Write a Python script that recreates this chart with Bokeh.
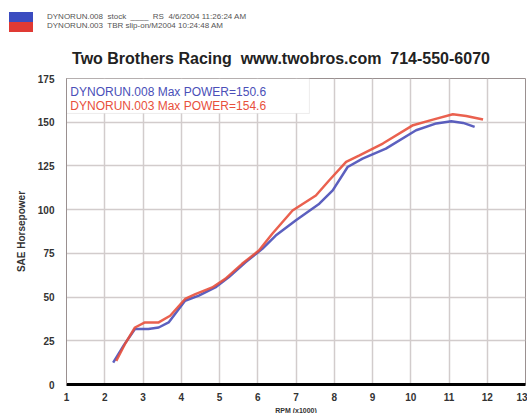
from bokeh.plotting import figure
from bokeh.layouts import column
from bokeh.models import Range1d, Label, BoxAnnotation, FixedTicker, Div
from bokeh.embed import file_html
from bokeh.resources import INLINE

# ---- data read from the dyno sheet ----
rpm_blue = [2.22, 2.50, 2.79, 3.14, 3.41, 3.67, 4.10, 4.46, 4.89, 5.24, 5.68, 6.12,
            6.47, 6.99, 7.61, 7.96, 8.35, 8.74, 9.35, 10.14, 10.67, 11.06, 11.37, 11.67]
hp_blue = [12.5, 22.5, 31.7, 31.7, 32.6, 35.5, 47.9, 50.8, 55.5, 61.3, 69.9, 77.6,
           85.2, 93.8, 103.4, 111.0, 124.4, 129.2, 134.9, 145.4, 149.3, 150.6, 149.6, 147.3]

rpm_red = [2.30, 2.55, 2.79, 3.05, 3.41, 3.71, 4.10, 4.37, 4.81, 5.15, 5.59, 6.03,
           6.38, 6.91, 7.52, 7.87, 8.31, 8.66, 9.27, 10.06, 10.58, 11.10, 11.45, 11.89]
hp_red = [13.5, 24.0, 32.6, 35.5, 35.5, 39.3, 48.9, 51.7, 55.5, 60.4, 69.0, 76.6,
          86.2, 99.5, 108.1, 116.8, 127.3, 131.1, 137.8, 148.3, 151.5, 154.6, 153.6, 151.5]

x_ticks = [1, 2, 3, 4, 5, 6, 7, 8, 9, 10, 11, 12, 13]
y_ticks = [0, 25, 50, 75, 100, 125, 150, 175]

legend_labels = ["DYNORUN.008  Max POWER=150.6", "DYNORUN.003  Max POWER=154.6"]
header_lines = ["DYNORUN.008  stock  ____  RS  4/6/2004 11:26:24 AM",
                "DYNORUN.003  TBR slip-on/M2004 10:24:48 AM"]
title_text = "Two Brothers Racing  www.twobros.com  714-550-6070"
x_label = "RPM (x1000)"
y_label = "SAE Horsepower"

BLUE = "#4a4fb8"
RED = "#e8503c"
FONT = "Liberation Sans"
W, H = 527, 413
HEAD_H = 70
FOOT_H = 9

# ---- header (swatch, run info, title) ----
head_html = (
    f'<div style="position:relative;width:{W}px;height:{HEAD_H}px;background:white;'
    f'font-family:\'{FONT}\',sans-serif;overflow:hidden;">'
    '<div style="position:absolute;left:9px;top:12px;width:24px;height:10px;background:#3b4cc0;"></div>'
    '<div style="position:absolute;left:9px;top:22px;width:24px;height:10px;background:#e03a34;"></div>'
    '<div style="position:absolute;left:47px;top:12px;font-size:8px;line-height:9px;'
    'color:#555555;white-space:pre;">' + "<br>".join(header_lines) + '</div>'
    '<div style="position:absolute;left:35px;width:492px;top:49px;text-align:center;'
    'font-size:16px;line-height:20px;font-weight:bold;color:#222222;white-space:pre;">'
    + title_text + '</div></div>'
)
head = Div(text=head_html, width=W, height=HEAD_H, margin=(0, 0, 0, 0))

# ---- footer: x axis title (sits at the very bottom, as in the photo) ----
foot_html = (
    f'<div style="position:relative;width:{W}px;height:{FOOT_H}px;background:white;'
    f'font-family:\'{FONT}\',sans-serif;">'
    '<div style="position:absolute;left:196px;width:200px;top:0px;text-align:center;'
    'font-size:7px;line-height:8px;font-weight:bold;color:#333333;white-space:pre;">'
    + x_label + '</div></div>'
)
foot = Div(text=foot_html, width=W, height=FOOT_H, margin=(0, 0, 0, 0))

# ---- chart ----
PH = H - HEAD_H - FOOT_H
p = figure(width=W, height=PH, output_backend="svg", toolbar_location=None,
           x_range=Range1d(1.0, 13.0), y_range=Range1d(0, 175),
           min_border_left=66, min_border_right=2, min_border_top=8,
           min_border_bottom=PH - 8 - 306, margin=(0, 0, 0, 0))
p.background_fill_color = "white"
p.border_fill_color = "white"
p.outline_line_color = "#9a9090"
p.outline_line_width = 1

p.xgrid.ticker = FixedTicker(ticks=x_ticks)
p.ygrid.ticker = FixedTicker(ticks=y_ticks)
p.grid.grid_line_color = "#d2cccc"
p.grid.grid_line_width = 1.5

p.xaxis.ticker = FixedTicker(ticks=x_ticks)
p.yaxis.ticker = FixedTicker(ticks=y_ticks)
for ax in (p.xaxis[0], p.yaxis[0]):
    ax.major_tick_line_color = None
    ax.minor_tick_line_color = None
    ax.major_tick_out = 0
    ax.major_tick_in = 0
    ax.minor_tick_out = 0
    ax.major_label_text_font = FONT
    ax.major_label_text_font_style = "bold"
    ax.major_label_text_font_size = "10px"
    ax.major_label_text_color = "#333333"
    ax.axis_label_text_font = FONT
    ax.axis_label_text_font_style = "bold"
    ax.axis_label_text_color = "#333333"
p.xaxis.axis_line_color = "black"
p.xaxis.axis_line_width = 3
p.xaxis.major_label_standoff = 8
p.yaxis.axis_line_color = "#9a9090"
p.yaxis.major_label_standoff = 12
p.yaxis.axis_label = y_label
p.yaxis.axis_label_text_font_size = "10px"
p.yaxis.axis_label_standoff = 8

# legend box (white, covers grid)
p.add_layout(BoxAnnotation(left=1.0, right=7.35, top=175, bottom=155,
                           fill_color="white", fill_alpha=1,
                           line_color="#c4c0c0", line_width=1, level="underlay"))

p.line(rpm_blue, hp_blue, line_color=BLUE, line_width=2.5, line_alpha=0.9)
p.line(rpm_red, hp_red, line_color=RED, line_width=2.5, line_alpha=0.9)

for i, (txt, col) in enumerate(zip(legend_labels, [BLUE, RED])):
    p.add_layout(Label(x=1.1, y=167.5 - i * 8.0, text=txt, text_color=col,
                       text_font=FONT, text_font_size="12px",
                       text_baseline="middle", text_align="left"))

layout = column(head, p, foot, spacing=0)
open("out.html", "w").write(file_html(layout, INLINE))
